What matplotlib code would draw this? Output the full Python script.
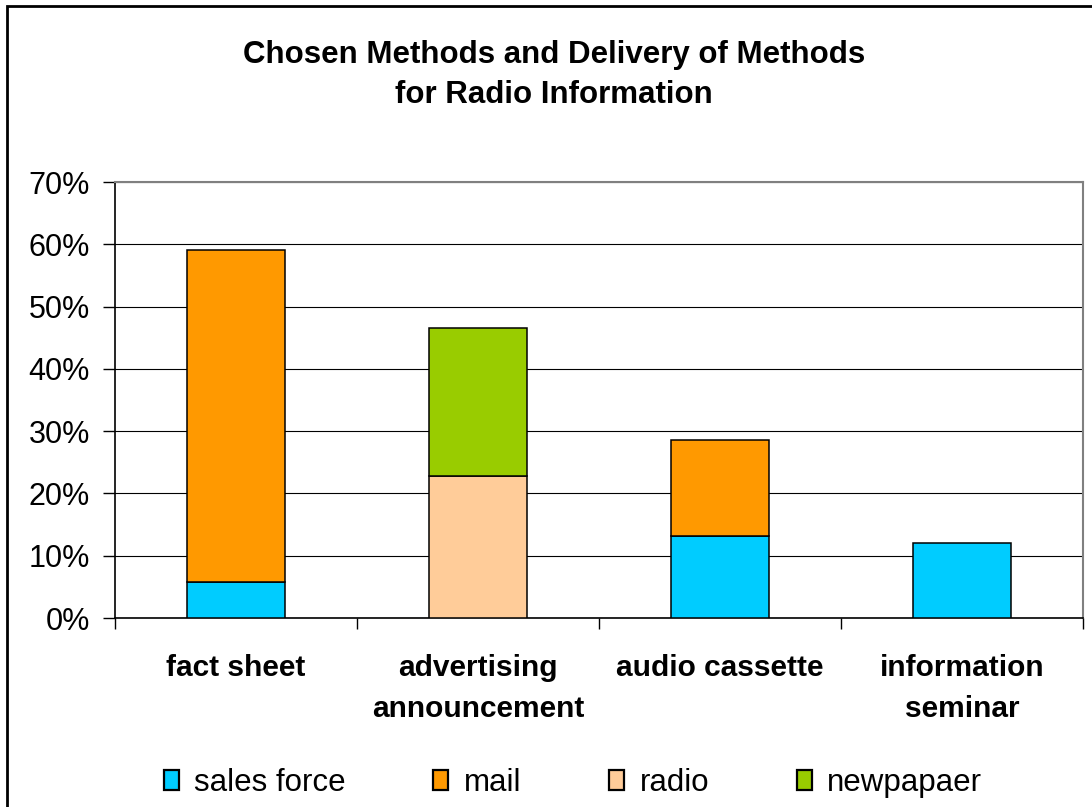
import numpy as np
import matplotlib.pyplot as plt
from matplotlib.patches import Rectangle

plt.rcParams['font.family'] = ['Liberation Sans', 'DejaVu Sans']

categories = ['fact sheet', 'advertising\nannouncement', 'audio cassette', 'information\nseminar']
series_names = ['sales force', 'mail', 'radio', 'newpapaer']
sales_force = [5.8, 0, 13.2, 12.1]
mail = [53.3, 0, 15.4, 0]
radio = [0, 22.8, 0, 0]
newpapaer = [0, 23.8, 0, 0]
colors = ['#00CCFF', '#FF9900', '#FFCC99', '#99CC00']

fig = plt.figure(figsize=(10.92, 8.07), dpi=100)
ax = fig.add_axes([115/1092, 1-618/807, (1083-115)/1092, (618-182)/807])

x = np.arange(len(categories))
bottom = np.zeros(len(categories))
handles = []
for name, vals, c in zip(series_names, [sales_force, mail, radio, newpapaer], colors):
    vals = np.array(vals, dtype=float)
    keep = vals > 0
    b = ax.bar(x[keep], vals[keep], 0.405, bottom=bottom[keep], color=c,
               edgecolor='black', linewidth=1.1, zorder=3, label=name)
    handles.append(b)
    bottom = bottom + vals

ax.set_xlim(-0.5, 3.5)
ax.set_ylim(0, 70)
ax.set_yticks(np.arange(0, 71, 10))
ax.set_yticklabels([f'{v}%' for v in range(0, 71, 10)], fontsize=22)
ax.yaxis.grid(True, color='black', linewidth=0.8, zorder=0)
ax.set_axisbelow(True)
ax.tick_params(axis='y', direction='out', length=9, width=1.0, pad=9)

ax.set_xticks(x)
ax.set_xticklabels(categories, fontsize=21.5, fontweight='bold', linespacing=1.57, va='top')
ax.set_xticks(np.arange(-0.5, 3.6, 1), minor=True)
ax.tick_params(axis='x', which='major', length=0, pad=26)
ax.tick_params(axis='x', which='minor', direction='out', length=8, width=1.0)

for s in ['left', 'bottom']:
    ax.spines[s].set_linewidth(1.2)
    ax.spines[s].set_color('black')
for s in ['top', 'right']:
    ax.spines[s].set_linewidth(1.5)
    ax.spines[s].set_color('#808080')

fig.text(554/1092, 1-75/807, 'Chosen Methods and Delivery of Methods\nfor Radio Information',
         ha='center', va='center', fontsize=22.5, fontweight='bold', linespacing=1.44)

leg = fig.legend(handles=handles, labels=series_names, loc='center', ncol=4,
                 bbox_to_anchor=(573/1092, 1-783/807), frameon=False, fontsize=22.5,
                 handlelength=0.48, handleheight=0.6, handletextpad=0.5, columnspacing=2.8)
for p in leg.get_patches():
    p.set_linewidth(1.6)

fig.patches.append(Rectangle((7/1092, -0.1), 2, 1.1 - 6/807, transform=fig.transFigure,
                             fill=False, edgecolor='black', linewidth=2))

fig.savefig('out.png', dpi=100)
